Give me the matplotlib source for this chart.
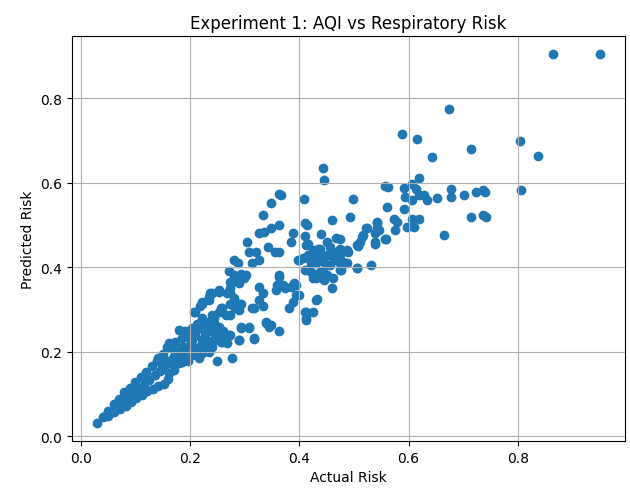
"""Scatter of actual vs predicted respiratory risk (Experiment 1)."""

import matplotlib

matplotlib.use("Agg")
import matplotlib.pyplot as plt

# --- values --------------------------------------------------------------

# high / right tail
tail_actual = [
    0.864, 0.950, 0.674, 0.588, 0.616, 0.714, 0.804, 0.836, 0.806, 0.643,
    0.443, 0.445, 0.367, 0.408, 0.499, 0.556, 0.563, 0.591, 0.606, 0.619,
    0.613, 0.594, 0.606, 0.619, 0.628, 0.634, 0.652, 0.677, 0.677, 0.702,
    0.723, 0.736, 0.739, 0.560, 0.591, 0.573, 0.579, 0.606, 0.619, 0.597,
    0.610, 0.576, 0.714, 0.736, 0.742, 0.664, 0.493, 0.542, 0.523, 0.517,
    0.542, 0.539, 0.511, 0.508, 0.557, 0.539, 0.474, 0.474, 0.490, 0.480,
    0.505, 0.531, 0.474, 0.559, 0.522,
]
tail_pred = [
    0.904, 0.904, 0.774, 0.715, 0.703, 0.680, 0.698, 0.664, 0.584, 0.660,
    0.636, 0.606, 0.570, 0.561, 0.561, 0.592, 0.589, 0.588, 0.598, 0.612,
    0.586, 0.567, 0.559, 0.570, 0.570, 0.559, 0.563, 0.586, 0.567, 0.570,
    0.579, 0.582, 0.579, 0.543, 0.537, 0.515, 0.508, 0.515, 0.515, 0.496,
    0.496, 0.488, 0.519, 0.523, 0.519, 0.476, 0.519, 0.508, 0.492, 0.476,
    0.492, 0.480, 0.460, 0.451, 0.468, 0.456, 0.468, 0.444, 0.437, 0.409,
    0.399, 0.405, 0.393, 0.466, 0.492,
]

# middle cloud (actual 0.36 - 0.55)
mid_actual = [
    0.363, 0.459, 0.414, 0.389, 0.385, 0.410, 0.416, 0.440, 0.467, 0.505,
    0.410, 0.413, 0.425, 0.437, 0.450, 0.456, 0.462, 0.474, 0.487, 0.406,
    0.397, 0.422, 0.431, 0.443, 0.456, 0.468, 0.480, 0.437, 0.450, 0.462,
    0.477, 0.431, 0.459, 0.434, 0.450, 0.431, 0.446, 0.462, 0.416, 0.422,
    0.400, 0.410, 0.422, 0.431, 0.443, 0.446, 0.425, 0.474, 0.487, 0.505,
    0.514, 0.542, 0.545, 0.539,
]
mid_pred = [
    0.500, 0.511, 0.501, 0.482, 0.459, 0.473, 0.454, 0.478, 0.470, 0.452,
    0.504, 0.452, 0.440, 0.444, 0.460, 0.448, 0.437, 0.429, 0.440, 0.421,
    0.417, 0.413, 0.409, 0.421, 0.405, 0.417, 0.413, 0.389, 0.381, 0.374,
    0.393, 0.374, 0.350, 0.444, 0.429, 0.429, 0.413, 0.425, 0.429, 0.409,
    0.417, 0.393, 0.389, 0.381, 0.391, 0.370, 0.374, 0.409, 0.409, 0.397,
    0.472, 0.504, 0.488, 0.459,
]

# upper-left spread (actual 0.20 - 0.43)
spread_actual = [
    0.363, 0.348, 0.334, 0.348, 0.327, 0.336, 0.305, 0.342, 0.356, 0.308,
    0.320, 0.327, 0.314, 0.280, 0.287, 0.271, 0.280, 0.293, 0.302, 0.277,
    0.290, 0.274, 0.268, 0.253, 0.240, 0.234, 0.222, 0.210, 0.280, 0.274,
    0.283, 0.293, 0.259, 0.265, 0.253, 0.244, 0.237, 0.228, 0.216, 0.327,
    0.333, 0.327, 0.317, 0.333, 0.339, 0.348, 0.363, 0.308, 0.293, 0.290,
    0.317, 0.271, 0.259, 0.250, 0.276, 0.360, 0.373, 0.385, 0.394, 0.400,
    0.388, 0.382, 0.413, 0.425, 0.413, 0.431, 0.363, 0.363, 0.363, 0.370,
    0.391, 0.394, 0.410, 0.413, 0.432, 0.274, 0.290, 0.299, 0.314, 0.357,
    0.237, 0.253, 0.274, 0.222, 0.234, 0.219, 0.207, 0.256, 0.280, 0.290,
    0.274, 0.290, 0.240, 0.339, 0.345,
]
spread_pred = [
    0.573, 0.553, 0.523, 0.492, 0.480, 0.484, 0.460, 0.448, 0.437, 0.437,
    0.435, 0.417, 0.409, 0.417, 0.409, 0.391, 0.381, 0.385, 0.381, 0.366,
    0.362, 0.350, 0.338, 0.346, 0.338, 0.330, 0.314, 0.295, 0.326, 0.312,
    0.303, 0.314, 0.303, 0.287, 0.295, 0.279, 0.263, 0.251, 0.259, 0.354,
    0.338, 0.322, 0.303, 0.307, 0.271, 0.263, 0.248, 0.259, 0.259, 0.228,
    0.232, 0.239, 0.224, 0.178, 0.186, 0.358, 0.350, 0.354, 0.359, 0.334,
    0.318, 0.303, 0.295, 0.295, 0.275, 0.322, 0.378, 0.437, 0.381, 0.358,
    0.362, 0.334, 0.295, 0.279, 0.325, 0.366, 0.370, 0.374, 0.303, 0.346,
    0.338, 0.342, 0.338, 0.318, 0.322, 0.307, 0.295, 0.303, 0.310, 0.314,
    0.287, 0.299, 0.287, 0.267, 0.259,
]

# dense cluster (actual 0.14 - 0.32)
cluster_actual = [
    0.222, 0.234, 0.244, 0.253, 0.240, 0.228, 0.216, 0.203, 0.210, 0.222,
    0.203, 0.191, 0.179, 0.185, 0.173, 0.161, 0.167, 0.185, 0.201, 0.216,
    0.228, 0.240, 0.256, 0.265, 0.274, 0.293, 0.308, 0.290, 0.317, 0.268,
    0.216, 0.191, 0.179, 0.167, 0.154, 0.142, 0.148, 0.161, 0.203, 0.222,
    0.197, 0.190, 0.200, 0.210, 0.230, 0.240, 0.250, 0.235, 0.260, 0.205,
    0.195, 0.180, 0.170, 0.175, 0.185, 0.212, 0.226, 0.246,
]
cluster_pred = [
    0.279, 0.271, 0.267, 0.259, 0.248, 0.243, 0.255, 0.255, 0.239, 0.228,
    0.228, 0.248, 0.251, 0.232, 0.224, 0.220, 0.208, 0.212, 0.216, 0.212,
    0.216, 0.220, 0.224, 0.236, 0.239, 0.255, 0.257, 0.228, 0.229, 0.220,
    0.184, 0.196, 0.184, 0.173, 0.177, 0.184, 0.161, 0.149, 0.192, 0.196,
    0.177, 0.210, 0.230, 0.200, 0.230, 0.210, 0.240, 0.200, 0.250, 0.245,
    0.185, 0.190, 0.190, 0.200, 0.175, 0.265, 0.262, 0.232,
]

# low-risk band along the diagonal
band_actual = [
    0.040, 0.050, 0.060, 0.070, 0.080, 0.090, 0.100, 0.110, 0.120, 0.130,
    0.140, 0.150, 0.157,
    0.030, 0.045, 0.055, 0.065, 0.075, 0.085, 0.095, 0.105, 0.115, 0.125,
    0.135, 0.145, 0.155, 0.165,
    0.050, 0.060, 0.072, 0.082, 0.092, 0.102, 0.112, 0.122, 0.132, 0.142,
    0.152, 0.160, 0.170, 0.180,
]
band_pred = [
    0.045, 0.060, 0.075, 0.088, 0.104, 0.114, 0.127, 0.140, 0.152, 0.165,
    0.178, 0.195, 0.212,
    0.032, 0.048, 0.058, 0.068, 0.080, 0.090, 0.100, 0.112, 0.122, 0.133,
    0.145, 0.155, 0.168, 0.180,
    0.048, 0.056, 0.064, 0.072, 0.080, 0.090, 0.098, 0.106, 0.112, 0.118,
    0.124, 0.136, 0.156, 0.172,
]

actual_risk = tail_actual + mid_actual + spread_actual + cluster_actual + band_actual
predicted_risk = tail_pred + mid_pred + spread_pred + cluster_pred + band_pred


def crear_grafico(archivo_salida="out.png"):
    fig = plt.figure(figsize=(6.30, 4.89), dpi=100)
    ax = fig.add_axes([0.1143, 0.0961, 0.8777, 0.8282])

    ax.scatter(actual_risk, predicted_risk)

    ax.set_title("Experiment 1: AQI vs Respiratory Risk")
    ax.set_xlabel("Actual Risk")
    ax.set_ylabel("Predicted Risk")
    ax.grid(True)

    fig.savefig(archivo_salida, dpi=100)
    plt.close(fig)
    return archivo_salida


if __name__ == "__main__":
    crear_grafico()
